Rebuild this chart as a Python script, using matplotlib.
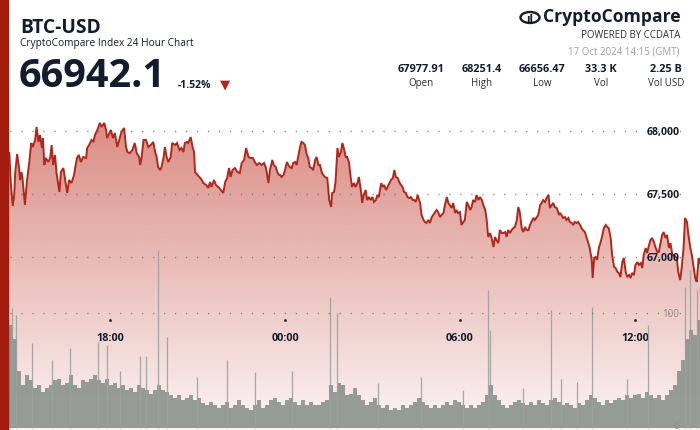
import numpy as np
import matplotlib
matplotlib.use('Agg')
import matplotlib.pyplot as plt
from matplotlib.patches import Rectangle, Ellipse
from matplotlib.transforms import blended_transform_factory

plt.rcParams['font.family'] = ['Open Sans', 'DejaVu Sans']

# ---------------------
# data (minutes since 16 Oct 14:15 GMT)
# ---------------------
minutes = [
    0, 14, 18, 21, 25, 28, 30, 34, 38, 40,
    43, 45, 50, 54, 59, 63, 66, 71, 74, 78,
    81, 85, 87, 90, 93, 98, 102, 105, 108, 112,
    115, 121, 124, 129, 132, 137, 141, 146, 151, 157,
    161, 165, 170, 176, 178, 182, 187, 191, 194, 199,
    204, 208, 213, 217, 219, 224, 227, 231, 235, 240,
    244, 248, 251, 254, 258, 261, 266, 271, 276, 280,
    285, 287, 290, 294, 299, 304, 309, 314, 318, 321,
    324, 328, 331, 335, 338, 342, 345, 350, 353, 359,
    363, 368, 372, 376, 379, 383, 386, 391, 395, 398,
    400, 405, 409, 414, 417, 423, 427, 431, 434, 439,
    443, 448, 453, 458, 462, 466, 470, 473, 477, 482,
    487, 492, 496, 501, 505, 510, 514, 519, 523, 527,
    532, 537, 542, 546, 551, 554, 559, 562, 566, 570,
    573, 575, 578, 582, 585, 589, 592, 595, 599, 602,
    606, 609, 612, 616, 619, 623, 626, 630, 633, 636,
    640, 643, 647, 650, 654, 657, 661, 664, 667, 672,
    676, 680, 682, 686, 689, 693, 696, 700, 703, 706,
    710, 713, 717, 720, 723, 727, 730, 734, 737, 741,
    744, 747, 751, 754, 758, 761, 765, 768, 772, 775,
    778, 783, 786, 789, 793, 796, 800, 803, 807, 810,
    813, 817, 820, 824, 827, 830, 834, 837, 841, 844,
    848, 851, 854, 858, 861, 863, 866, 870, 873, 876,
    880, 883, 887, 890, 894, 897, 900, 904, 907, 911,
    914, 918, 921, 924, 928, 931, 935, 938, 941, 945,
    948, 952, 955, 959, 962, 966, 969, 972, 976, 979,
    983, 986, 990, 993, 997, 1000, 1003, 1007, 1010, 1014,
    1017, 1020, 1024, 1027, 1031, 1034, 1038, 1041, 1044, 1048,
    1051, 1055, 1058, 1062, 1065, 1068, 1072, 1075, 1079, 1082,
    1086, 1089, 1092, 1096, 1099, 1103, 1106, 1110, 1113, 1116,
    1120, 1123, 1127, 1130, 1134, 1137, 1140, 1144, 1147, 1149,
    1151, 1154, 1157, 1161, 1164, 1168, 1171, 1175, 1178, 1181,
    1185, 1188, 1192, 1195, 1198, 1202, 1205, 1209, 1212, 1216,
    1218, 1221, 1224, 1227, 1231, 1234, 1238, 1241, 1245, 1248,
    1251, 1255, 1258, 1262, 1265, 1269, 1272, 1275, 1279, 1282,
    1286, 1289, 1293, 1296, 1299, 1303, 1306, 1310, 1313, 1317,
    1320, 1323, 1327, 1330, 1334, 1337, 1340, 1344, 1347, 1351,
    1354, 1358, 1361, 1364, 1368, 1371, 1375, 1378, 1382, 1385,
    1391, 1394, 1398, 1401, 1405, 1408, 1412, 1415, 1419, 1422,
    1425, 1429, 1432, 1436, 1440,
]
price = [
    67978, 67833, 67825, 67587, 67405, 67492, 67667, 67817, 67706, 67611,
    67675, 67627, 67413, 67595, 67754, 67905, 67873, 67929, 68032, 67913,
    67968, 67865, 67944, 67730, 67786, 67754, 67786, 67889, 67730, 67810,
    67667, 67516, 67675, 67706, 67635, 67508, 67611, 67587, 67651, 67786,
    67810, 67754, 67794, 67786, 67865, 67889, 67929, 67913, 67968, 68008,
    68064, 68032, 68064, 68008, 67944, 67984, 68008, 67944, 67984, 67873,
    67929, 67984, 68008, 68024, 67873, 67833, 67825, 67849, 67905, 67825,
    67794, 67730, 67786, 67929, 67929, 67873, 67889, 67913, 67833, 67794,
    67714, 67690, 67714, 67786, 67873, 67786, 67754, 67794, 67905, 67889,
    67905, 67849, 67865, 67833, 67905, 67913, 67905, 67952, 67873, 67833,
    67675, 67651, 67635, 67611, 67587, 67571, 67548, 67595, 67556, 67611,
    67571, 67556, 67532, 67508, 67595, 67627, 67706, 67635, 67690, 67706,
    67675, 67667, 67746, 67770, 67865, 67794, 67786, 67786, 67754, 67730,
    67746, 67730, 67746, 67706, 67587, 67690, 67770, 67730, 67714, 67667,
    67651, 67651, 67635, 67651, 67690, 67754, 67730, 67714, 67706, 67746,
    67754, 67730, 67794, 67873, 67913, 67905, 67889, 67810, 67786, 67714,
    67706, 67690, 67770, 67794, 67730, 67730, 67667, 67651, 67635, 67627,
    67452, 67397, 67508, 67516, 67595, 67865, 67794, 67833, 67905, 67865,
    67794, 67794, 67746, 67635, 67556, 67587, 67556, 67587, 67635, 67532,
    67429, 67492, 67532, 67452, 67476, 67452, 67476, 67437, 67452, 67492,
    67476, 67587, 67556, 67571, 67532, 67556, 67587, 67611, 67627, 67690,
    67635, 67627, 67595, 67571, 67556, 67516, 67508, 67476, 67468, 67476,
    67452, 67452, 67437, 67492, 67452, 67429, 67333, 67294, 67278, 67270,
    67294, 67270, 67317, 67333, 67357, 67373, 67357, 67317, 67333, 67349,
    67413, 67476, 67429, 67413, 67389, 67429, 67349, 67373, 67349, 67357,
    67254, 67278, 67294, 67437, 67413, 67373, 67397, 67452, 67437, 67492,
    67452, 67476, 67452, 67413, 67373, 67294, 67159, 67190, 67151, 67079,
    67159, 67135, 67111, 67214, 67190, 67190, 67198, 67159, 67214, 67190,
    67214, 67230, 67238, 67294, 67397, 67357, 67230, 67198, 67238, 67214,
    67214, 67254, 67278, 67310, 67294, 67317, 67333, 67413, 67429, 67452,
    67437, 67468, 67492, 67389, 67413, 67429, 67397, 67389, 67357, 67333,
    67349, 67333, 67310, 67317, 67294, 67310, 67278, 67270, 67254, 67278,
    67270, 67278, 67254, 67230, 67214, 67198, 67159, 67111, 67071, 66976,
    66833, 66992, 67000, 66976, 67079, 67111, 67175, 67230, 67254, 67238,
    67230, 67151, 67016, 66921, 66913, 66881, 66873, 66841, 66960, 66992,
    66881, 66841, 66857, 66833, 66873, 66857, 66937, 66960, 66937, 66952,
    66913, 67016, 67071, 67032, 67095, 67135, 67151, 67119, 67079, 67040,
    67040, 67119, 67175, 67198, 67151, 67175, 67071, 67111, 67016, 67016,
    66992, 66881, 66817, 66913, 67071, 67310, 67278, 67175, 67071, 67016,
    66937, 66833, 66802, 66992, 66942,
]

# volume, 175 equal bins over the 24h
vol_bins = [
    85, 96, 90, 77, 50, 37, 46, 42, 35, 37,
    31, 35, 37, 42, 43, 37, 39, 46, 37, 35,
    42, 40, 43, 46, 42, 39, 43, 37, 39, 35,
    37, 33, 35, 31, 37, 35, 33, 30, 33, 37,
    33, 31, 29, 26, 29, 24, 26, 29, 24, 26,
    22, 20, 23, 20, 17, 20, 23, 17, 20, 24,
    20, 17, 16, 20, 24, 17, 20, 24, 26, 23,
    20, 24, 26, 23, 20, 24, 20, 23, 20, 20,
    23, 24, 37, 31, 39, 37, 29, 30, 35, 29,
    24, 20, 23, 26, 20, 17, 20, 16, 17, 16,
    20, 17, 20, 23, 26, 23, 20, 17, 20, 17,
    20, 23, 20, 24, 23, 20, 17, 20, 17, 20,
    23, 29, 37, 29, 24, 20, 17, 20, 23, 24,
    22, 20, 23, 20, 24, 22, 20, 24, 26, 23,
    20, 22, 20, 17, 22, 20, 24, 29, 26, 23,
    20, 24, 22, 24, 26, 24, 29, 26, 29, 30,
    26, 31, 29, 26, 29, 24, 29, 33, 37, 50,
    59, 77, 85, 81, 94,
]
# single-minute volume spikes
spike_min = [23, 32, 65, 106, 143, 200, 219, 246, 287, 299, 324, 342, 404, 466,
             523, 599, 677, 692, 776, 865, 951, 1003, 1007, 1075, 1132, 1153,
             1186, 1217, 1289, 1332, 1408, 1418, 1432]
spike_vol = [104, 98, 74, 59, 70, 75, 72, 50, 63, 63, 155, 79, 44, 59,
             49, 50, 114, 100, 39, 44, 33, 120, 85, 35, 103, 43,
             40, 105, 43, 90, 123, 137, 120]

price_ticks = [68000, 67500, 67000]
price_labels = ['68,000', '67,500', '67,000']
time_ticks = [225, 585, 945, 1305]
time_labels = ['18:00', '00:00', '06:00', '12:00']

stat_values = ['67977.91', '68251.4', '66656.47', '33.3 K', '2.25 B']
stat_names = ['Open', 'High', 'Low', 'Vol', 'Vol USD']

# ---------------------
# layout helpers (pixels of a 700x430 canvas)
# ---------------------
W, H = 700, 430


def P(x, y):
    return x / W, 1 - y / H


NAVY = '#111d2c'
RED = '#b0281b'

fig = plt.figure(figsize=(7, 4.3), dpi=100)
fig.patch.set_facecolor('white')

# chart area: pixels y 110..430, full width
ax = fig.add_axes([0, 0, 1, 320 / H])
ax2 = ax.twinx()
x0 = -0.6 / 0.4861
x1 = (W - 0.6) / 0.4861
ax.set_xlim(x0, x1)
ax.set_ylim(68000 - (430 - 131) * 7.937, 68000 + (131 - 110) * 7.937)
ax2.set_ylim(-(430 - 428) / 1.15, (428 - 110) / 1.15)
for a in (ax, ax2):
    a.axis('off')
ax.patch.set_visible(False)

m = np.array(minutes)
p = np.array(price)
ylo, yhi = ax.get_ylim()

# gradient fill under the price line
poly = ax.fill_between(m, p, ylo, color='none', lw=0)
grad = np.zeros((256, 1, 4))
grad[:, 0, 0] = 192 / 255
grad[:, 0, 1] = 57 / 255
grad[:, 0, 2] = 43 / 255
grad[:, 0, 3] = np.linspace(0.6, 0.05, 256)
img = ax.imshow(grad, extent=[x0, x1, ylo, yhi], aspect='auto', origin='upper', zorder=1)
img.set_clip_path(poly.get_paths()[0], transform=ax.transData)
ax.set_xlim(x0, x1)
ax.set_ylim(ylo, yhi)

ax.plot(m, p, color=RED, lw=1.4, zorder=3, solid_joinstyle='miter')

# dotted grid
for t in price_ticks:
    ax.axhline(t, xmin=10 / W, xmax=686 / W, color='#7a7a7a', lw=1.0,
               ls=(0, (0.8, 7.1)), zorder=2)
ax2.axhline(100, xmin=10 / W, xmax=686 / W, color='#7a7a7a', lw=1.0,
            ls=(0, (0.8, 7.1)), zorder=2)

# volume
bw = 1440 / len(vol_bins)
centers = (np.arange(len(vol_bins)) + 0.5) * bw
ax2.bar(centers, vol_bins, width=bw * 1.02, color='#8d948e', alpha=0.92, lw=0, zorder=1)
ax2.vlines(spike_min, 0, spike_vol, color='#9ba19c', lw=0.9, alpha=0.9, zorder=1)

# price labels
tr = blended_transform_factory(ax.transAxes, ax.transData)
for t, lab in zip(price_ticks, price_labels):
    ax.text(680 / W, t - 4.3 * 7.937, lab, transform=tr, ha='right', va='baseline',
            fontsize=7.6, fontweight='bold', color=NAVY, zorder=5)
tr2 = blended_transform_factory(ax2.transAxes, ax2.transData)
ax2.text(679 / W, 100 - 4 / 1.15, '100', transform=tr2, ha='right', va='baseline',
         fontsize=7, color='#8a8a8a', zorder=5)
ax2.text(679 / W, 1.4 / 1.15, '0', transform=tr2, ha='right', va='center',
         fontsize=6.5, color='#8a8a8a', zorder=5)

# time labels and tick dots
trt = blended_transform_factory(ax.transData, fig.transFigure)
for t, lab in zip(time_ticks, time_labels):
    ax.text(t, 1 - 341 / H, lab, transform=trt, ha='center', va='baseline',
            fontsize=7.8, fontweight='bold', color=NAVY, zorder=5)
    ax.plot([t], [1 - 320 / H], transform=trt, marker='s', ms=0.9,
            color='#222222', zorder=5, clip_on=False)

# red band on the left edge
fig.patches.append(Rectangle((0, 0), 7.5 / W, 1, transform=fig.transFigure,
                             color='#a31b0d', zorder=10))

# ---------------------
# header
# ---------------------
fig.text(*P(20, 33.3), 'BTC-USD', fontsize=13.8, fontweight='bold', color=NAVY, va='baseline')
fig.text(*P(20, 46), 'CryptoCompare Index 24 Hour Chart', fontsize=7.3, color=NAVY, va='baseline')
fig.text(*P(19, 87), '66942.1', fontsize=28.5, fontweight='bold', color=NAVY, va='baseline')
fig.text(*P(178, 87.5), '-1.52%', fontsize=7.5, fontweight='bold', color=NAVY, va='baseline')
fig.text(*P(225, 88), '\u25BC', fontsize=9.5, color=RED, ha='center', va='baseline',
         family=['DejaVu Sans'])

# logo
fig.text(*P(681, 22.5), 'CryptoCompare', fontsize=12.6, fontweight='bold', color=NAVY,
         ha='right', va='baseline')
fig.patches.append(Ellipse(P(530, 17.5), 19 / W, 11 / H, angle=0, transform=fig.transFigure,
                           fill=False, ec=NAVY, lw=1.7))
fig.text(*P(530, 21.5), 'ıl', fontsize=7, fontweight='bold', color=NAVY, ha='center',
         va='baseline', family=['DejaVu Sans'])
fig.text(*P(680, 38.3), 'POWERED BY CCDATA', fontsize=6.9, color='#2a2f36',
         ha='right', va='baseline')
fig.text(*P(680, 55), '17 Oct 2024 14:15 (GMT)', fontsize=7, color='#a0a0a0',
         ha='right', va='baseline')

stat_x = [421, 482, 542, 601, 666]
for x, v, n in zip(stat_x, stat_values, stat_names):
    fig.text(*P(x, 72.5), v, fontsize=7.8, fontweight='bold', color=NAVY,
             ha='center', va='baseline')
    fig.text(*P(x, 86), n, fontsize=7, color='#2a2f36', ha='center', va='baseline')

fig.savefig('out.png', dpi=100)
